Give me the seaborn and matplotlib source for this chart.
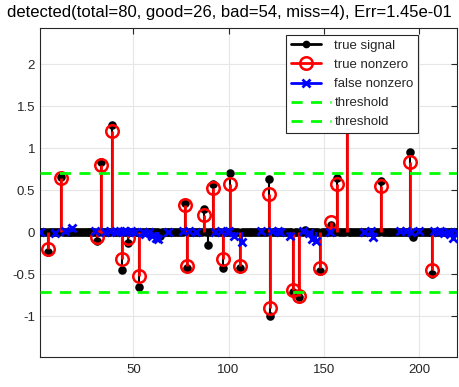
import numpy as np
import matplotlib
matplotlib.use("Agg")
import matplotlib.pyplot as plt
import seaborn as sns
from matplotlib.lines import Line2D
from matplotlib.legend_handler import HandlerLine2D

# signal length
n = 220
# true nonzeros that were detected: index, true value, estimate
good_idx = [5, 12, 31, 33, 39, 44, 47, 53, 77, 78, 87, 92, 97, 101, 106,
            121, 122, 134, 137, 148, 154, 157, 162, 180, 195, 207]
good_true = [-0.23, 0.66, -0.10, 0.83, 1.27, -0.45, -0.13, -0.65, 0.35, -0.42, 0.28, 0.57, -0.42, 0.71, -0.43,
             0.63, -1.00, -0.71, -0.77, -0.46, 0.09, 0.64, 1.62, 0.61, 0.95, -0.49]
good_est = [-0.20, 0.64, -0.06, 0.80, 1.20, -0.32, -0.07, -0.52, 0.33, -0.40, 0.21, 0.53, -0.32, 0.57, -0.40,
            0.46, -0.90, -0.68, -0.76, -0.42, 0.12, 0.58, 1.56, 0.55, 0.84, -0.45]
# true nonzeros that were missed
miss_idx = [64, 89, 140, 197]
miss_true = [-0.04, -0.15, 0.03, -0.06]
# false detections
bad_idx = [1, 9, 14, 18, 30, 35, 38, 41, 43, 45, 46, 49, 51, 55, 56, 58, 60, 62, 63, 68,
           76, 79, 83, 93, 96, 99, 100, 103, 107, 117, 123, 126, 127, 132, 139, 142, 144,
           146, 153, 171, 175, 176, 190, 193, 196, 200, 208, 210, 211, 213, 215, 216, 218, 220]
bad_est = [0.0, -0.01, 0.01, 0.05, 0.01, 0.0, 0.02, 0.0, 0.02, 0.01, 0.0, 0.01, 0.0, 0.0, -0.02, 0.0, -0.04, -0.07, -0.08, 0.0,
           0.01, 0.01, 0.0, 0.0, 0.01, 0.0, 0.01, -0.04, -0.11, 0.02, 0.01, 0.01, 0.0, -0.04, 0.01, -0.01, -0.08,
           -0.10, 0.0, 0.0, 0.02, -0.06, 0.01, 0.02, 0.0, 0.02, 0.01, 0.0, 0.01, -0.01, 0.0, -0.02, -0.07, 0.0]
threshold = 0.71
title = "detected(total=80, good=26, bad=54, miss=4), Err=1.45e-01"

sns.set_theme(style="whitegrid")
plt.rcParams['font.family'] = ['Liberation Sans', 'DejaVu Sans']

x_all = np.arange(1, n + 1)
true_sig = np.zeros(n)
true_sig[np.array(good_idx) - 1] = good_true
true_sig[np.array(miss_idx) - 1] = miss_true


class EndMarker(HandlerLine2D):
    # MATLAB-like legend entry: line with the marker near its right end
    def __init__(self, frac=0.75, **kw):
        super().__init__(**kw)
        self.frac = frac

    def get_xdata(self, legend, xdescent, ydescent, width, height, fontsize):
        xe = -xdescent + width * self.frac
        return np.array([-xdescent, xe]), np.array([xe])


fig = plt.figure(figsize=(4.59, 3.87), dpi=100)
ax = fig.add_axes([0.087, 0.078, 0.909, 0.85])
ax.set_facecolor('white')

# true signal
ax.vlines(x_all, 0, true_sig, color='black', lw=1.5, zorder=2)
sns.scatterplot(x=x_all, y=true_sig, ax=ax, color='black', marker='o', s=38,
                edgecolor='black', linewidth=0, zorder=3, legend=False)

# true nonzero estimates
ax.vlines(good_idx, 0, good_est, color='red', lw=2, zorder=4)
ax.plot(good_idx, good_est, 'o', ms=9, mfc='none', mec='red', mew=1.8, zorder=5)

# false nonzero
ax.vlines(bad_idx, 0, bad_est, color='blue', lw=1.5, zorder=4)
ax.plot(bad_idx, bad_est, 'x', ms=6, mec='blue', mew=2, zorder=6)

# thresholds
ax.axhline(threshold, color=(0, 1, 0), lw=2, ls=(0, (4, 3)), zorder=7)
ax.axhline(-threshold, color=(0, 1, 0), lw=2, ls=(0, (4, 3)), zorder=7)

ax.set_xlim(1, n)
ax.set_ylim(-1.48, 2.43)
ax.set_xticks([50, 100, 150, 200])
ax.set_yticks([-1, -0.5, 0, 0.5, 1, 1.5, 2])
ax.set_yticklabels(['-1', '-0.5', '0', '0.5', '1', '1.5', '2'])
ax.grid(True, color='#e6e6e6', lw=0.8)
ax.tick_params(direction='in', length=4, width=0.8, colors='#262626', labelsize=9.5,
               top=True, right=True)
ax.tick_params(axis='x', pad=5)
for sp in ax.spines.values():
    sp.set_color('#262626')
    sp.set_linewidth(0.8)

handles = [
    Line2D([], [], color='black', lw=2, marker='o', ms=4.5),
    Line2D([], [], color='red', lw=2, marker='o', ms=9, mfc='none', mew=1.8),
    Line2D([], [], color='blue', lw=2, marker='x', ms=6, mew=2),
    Line2D([], [], color=(0, 1, 0), lw=2, ls=(0, (4, 3))),
    Line2D([], [], color=(0, 1, 0), lw=2, ls=(0, (4, 3))),
]
labels = ['true signal', 'true nonzero', 'false nonzero', 'threshold', 'threshold']
hmap = {h: EndMarker() for h in handles[:3]}
leg = ax.legend(handles, labels, handler_map=hmap, loc='upper right',
                bbox_to_anchor=(0.907, 0.978), fontsize=9.5, frameon=True, fancybox=False,
                framealpha=1, edgecolor='#262626', handlelength=3.0, handletextpad=0.3,
                borderpad=0.35, labelspacing=0.52, borderaxespad=0)
leg.get_frame().set_linewidth(0.8)
leg.set_zorder(10)

fig.text(0.5, 1 - 13 / 387, title, ha='center', va='center', fontsize=12.0, color='black')

fig.savefig('out.png', dpi=100)
